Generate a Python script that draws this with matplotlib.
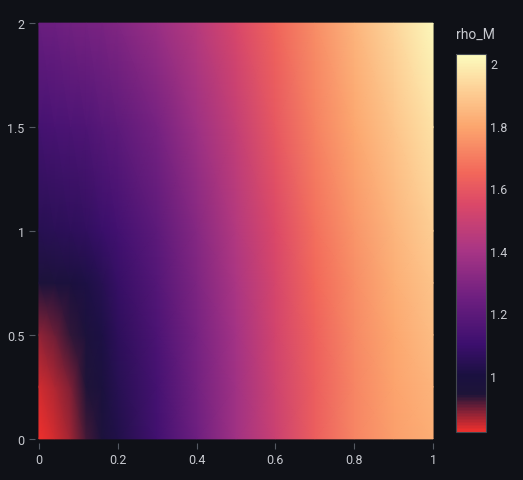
import matplotlib
matplotlib.use("Agg")
import matplotlib.pyplot as plt
import numpy as np
from matplotlib.colors import LinearSegmentedColormap

plt.rcParams['font.family'] = ['Roboto', 'DejaVu Sans']

# node positions and values
x_nodes = [0, 0.04, 0.08, 0.12, 0.16, 0.2, 0.3, 0.4, 0.5, 0.6, 0.7, 0.8, 0.9, 1.0]
y_nodes = [0, 0.25, 0.5, 0.75, 1.0, 1.5, 2.0]
rho_M = [
    [0.82, 0.84, 0.87, 0.92, 0.97, 1.02, 1.12, 1.25, 1.38, 1.50, 1.62, 1.72, 1.78, 1.82],
    [0.84, 0.86, 0.89, 0.94, 0.99, 1.04, 1.13, 1.26, 1.38, 1.51, 1.62, 1.72, 1.79, 1.84],
    [0.88, 0.90, 0.93, 0.97, 1.01, 1.06, 1.15, 1.27, 1.39, 1.52, 1.63, 1.73, 1.80, 1.86],
    [0.96, 0.97, 0.99, 1.01, 1.04, 1.08, 1.17, 1.29, 1.41, 1.53, 1.65, 1.74, 1.82, 1.88],
    [1.04, 1.05, 1.06, 1.07, 1.09, 1.12, 1.20, 1.31, 1.43, 1.55, 1.67, 1.76, 1.84, 1.91],
    [1.13, 1.14, 1.15, 1.16, 1.18, 1.20, 1.27, 1.37, 1.48, 1.60, 1.71, 1.80, 1.88, 1.96],
    [1.24, 1.25, 1.26, 1.27, 1.28, 1.30, 1.36, 1.44, 1.54, 1.64, 1.74, 1.84, 1.93, 2.02],
]
vmin, vmax = 0.82, 2.03

bg = '#0f1117'
txt = '#c8cad0'

stops = [(0.82, '#f0302d'), (0.88, '#8a2236'), (0.94, '#1d1438'), (1.0, '#1a1040'),
         (1.1, '#3c0f6e'), (1.25, '#6e1f80'), (1.4, '#a83585'), (1.55, '#db4868'),
         (1.65, '#f2675a'), (1.8, '#fca66e'), (1.92, '#fdd197'), (2.03, '#fcfcbe')]
cmap = LinearSegmentedColormap.from_list(
    'rho', [((v - vmin) / (vmax - vmin), c) for v, c in stops])

fig = plt.figure(figsize=(5.23, 4.81), dpi=100, facecolor=bg)
ax = fig.add_axes([35/523, 1 - 444/481, 402/523, 424/481])
ax.set_facecolor(bg)
mesh = ax.pcolormesh(x_nodes, y_nodes, np.array(rho_M), shading='gouraud',
                     cmap=cmap, vmin=vmin, vmax=vmax)
ax.set_xlim(-0.01, 1.01)
ax.set_ylim(-0.02, 2.02)
ax.set_xticks([0, 0.2, 0.4, 0.6, 0.8, 1])
ax.set_xticklabels(['0', '0.2', '0.4', '0.6', '0.8', '1'])
ax.set_yticks([0, 0.5, 1, 1.5, 2])
ax.set_yticklabels(['0', '0.5', '1', '1.5', '2'])
ax.tick_params(colors='#555a63', labelcolor=txt, labelsize=9, length=4)
for s in ax.spines.values():
    s.set_visible(False)

cax = fig.add_axes([456/523, 1 - 433/481, 30/523, 378/481])
cb = fig.colorbar(mesh, cax=cax)
cb.set_ticks([1, 1.2, 1.4, 1.6, 1.8, 2])
cb.set_ticklabels(['1', '1.2', '1.4', '1.6', '1.8', '2'])
cax.tick_params(colors=bg, labelcolor=txt, labelsize=9, length=0, pad=3)
cb.outline.set_edgecolor('#444850')
fig.text(456/523, 1 - 42/481, 'rho_M', color=txt, fontsize=10, va='bottom')

fig.savefig('out.png', dpi=100, facecolor=bg)
